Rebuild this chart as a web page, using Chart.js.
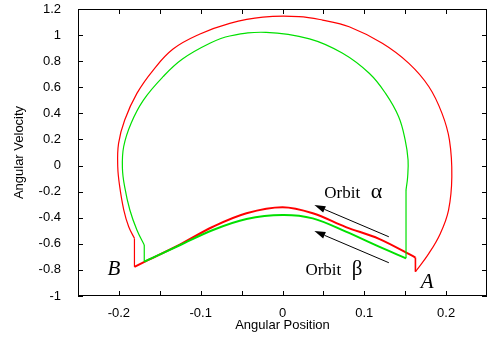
<!DOCTYPE html>
<html>
<head>
<meta charset="utf-8">
<script src="https://cdn.jsdelivr.net/npm/chart.js@4.4.0/dist/chart.umd.min.js"></script>
<style>
  html, body { margin: 0; padding: 0; background: #fff; }
  #wrap { width: 490px; height: 338px; }
</style>
</head>
<body>
<div id="wrap"><canvas id="myChart"></canvas></div>
<script>
// orbit alpha (red), [angular position, angular velocity]
var redArc = [[-0.181,-0.558],[-0.188,-0.469],[-0.194,-0.341],[-0.199,-0.162],[-0.2014,-0.01],
    [-0.2004,0.17],[-0.1929,0.349],[-0.178,0.553],[-0.158,0.732],[-0.1338,0.893],[-0.1016,1.006],
    [-0.0645,1.09],[-0.024,1.138],[0.02,1.142],[0.049,1.115],[0.0815,1.064],[0.122,0.937],
    [0.1545,0.783],[0.179,0.604],[0.195,0.40],[0.2041,0.195],[0.207,-0.086],[0.203,-0.341],
    [0.193,-0.52],[0.179,-0.673],[0.1625,-0.814]];
var redLow = [[0.1625,-0.705],[0.118,-0.562],[0.0775,-0.472],[0.037,-0.366],[0,-0.32],
    [-0.044,-0.366],[-0.085,-0.469],[-0.125,-0.604],[-0.17,-0.742],[-0.181,-0.776]];
var redJumpA = [[0.1625,-0.814],[0.1625,-0.705]];
var redJumpB = [[-0.181,-0.776],[-0.181,-0.558]];

// orbit beta (green)
var greenArc = [[-0.169,-0.609],[-0.178,-0.494],[-0.1866,-0.341],[-0.1930,-0.162],[-0.1957,-0.02],
    [-0.1942,0.144],[-0.1852,0.323],[-0.170,0.502],[-0.146,0.681],[-0.1223,0.8164],[-0.0882,0.939],
    [-0.0645,0.993],[-0.02,1.021],[0.033,0.971],[0.073,0.862],[0.106,0.707],[0.126,0.553],
    [0.142,0.374],[0.150,0.195],[0.1535,0.042],[0.153,-0.086],[0.151,-0.188]];
var greenLow = [[0.151,-0.711],[0.118,-0.622],[0.0775,-0.507],[0.037,-0.405],[0,-0.379],
    [-0.044,-0.41],[-0.085,-0.494],[-0.125,-0.609],[-0.169,-0.737]];
var greenJumpA = [[0.151,-0.188],[0.151,-0.711]];
var greenJumpB = [[-0.169,-0.737],[-0.169,-0.609]];

var xTickValues = [-0.2, -0.15, -0.1, -0.05, 0, 0.05, 0.1, 0.15, 0.2];
var xTickLabels = ['-0.2', '', '-0.1', '', '0', '', '0.1', '', '0.2'];
var yTickValues = [-1, -0.8, -0.6, -0.4, -0.2, 0, 0.2, 0.4, 0.6, 0.8, 1, 1.2];
var yTickLabels = ['-1', '-0.8', '-0.6', '-0.4', '-0.2', '0', '0.2', '0.4', '0.6', '0.8', '1', '1.2'];

// arrows (tail -> head) and labels, in data units
var arrows = [[[0.130,-0.546],[0.039,-0.303]], [[0.130,-0.745],[0.039,-0.502]]];
var labels = [
    {text: 'Orbit', x: 0.0511, y: -0.251, font: '17px "Liberation Serif"'},
    {text: '\u03b1', x: 0.108, y: -0.251, font: '22px "Liberation Serif"'},
    {text: 'Orbit', x: 0.028, y: -0.839, font: '17px "Liberation Serif"'},
    {text: '\u03b2', x: 0.0848, y: -0.839, font: '21px "Liberation Serif"'},
    {text: 'A', x: 0.169, y: -0.939, font: 'italic 21px "Liberation Serif"'},
    {text: 'B', x: -0.214, y: -0.839, font: 'italic 21px "Liberation Serif"'}
];

function pts(a) { return a.map(function (p) { return {x: p[0], y: p[1]}; }); }
function line(a, color, w, t) {
    return {data: pts(a), borderColor: color, borderWidth: w, showLine: true,
        pointRadius: 0, tension: t, fill: false};
}

var red = '#ff0000', green = '#00e000';

var frame = {
    id: 'frame',
    afterDatasetsDraw: function (chart) {
        var c = chart.ctx, a = chart.chartArea, xs = chart.scales.x, ys = chart.scales.y;
        c.save();
        c.strokeStyle = '#000';
        c.lineWidth = 1;
        c.beginPath();
        xTickValues.forEach(function (v) {
            var px = Math.round(xs.getPixelForValue(v)) + 0.5;
            c.moveTo(px, a.bottom); c.lineTo(px, a.bottom - 5);
            c.moveTo(px, a.top); c.lineTo(px, a.top + 5);
        });
        yTickValues.forEach(function (v) {
            var py = Math.round(ys.getPixelForValue(v)) + 0.5;
            c.moveTo(a.left, py); c.lineTo(a.left + 5, py);
            c.moveTo(a.right, py); c.lineTo(a.right - 5, py);
        });
        c.stroke();
        c.strokeRect(a.left + 0.5, a.top + 0.5, a.right - a.left - 1, a.bottom - a.top - 1);

        arrows.forEach(function (ar) {
            var x0 = xs.getPixelForValue(ar[0][0]), y0 = ys.getPixelForValue(ar[0][1]);
            var x1 = xs.getPixelForValue(ar[1][0]), y1 = ys.getPixelForValue(ar[1][1]);
            var ang = Math.atan2(y1 - y0, x1 - x0), L = 11, W = 3.5;
            var bx = x1 - L * Math.cos(ang), by = y1 - L * Math.sin(ang);
            c.beginPath();
            c.moveTo(x0, y0); c.lineTo(bx, by);
            c.stroke();
            c.beginPath();
            c.moveTo(x1, y1);
            c.lineTo(bx + W * Math.sin(ang), by - W * Math.cos(ang));
            c.lineTo(bx - W * Math.sin(ang), by + W * Math.cos(ang));
            c.closePath();
            c.fillStyle = '#000';
            c.fill();
        });

        c.fillStyle = '#000';
        c.textAlign = 'left';
        c.textBaseline = 'alphabetic';
        labels.forEach(function (l) {
            c.font = l.font;
            c.fillText(l.text, xs.getPixelForValue(l.x), ys.getPixelForValue(l.y));
        });
        c.restore();
    }
};

var ctx = document.getElementById('myChart');
var myChart = new Chart(ctx, {
    type: 'scatter',
    data: {
        datasets: [
            line(greenLow, green, 2, 0.35),
            line(greenArc, green, 1.2, 0.4),
            line(greenJumpA, green, 1.2, 0),
            line(greenJumpB, green, 1.2, 0),
            line(redLow, red, 2, 0.35),
            line(redArc, red, 1.2, 0.4),
            line(redJumpA, red, 1.6, 0),
            line(redJumpB, red, 1.2, 0)
        ]
    },
    options: {
        responsive: true,
        maintainAspectRatio: false,
        animation: false,
        events: [],
        layout: {padding: {left: 0, right: 3, top: 9, bottom: 0}},
        plugins: {legend: {display: false}, tooltip: {enabled: false}},
        scales: {
            x: {
                type: 'linear',
                min: -0.25,
                max: 0.25,
                afterBuildTicks: function (s) { s.ticks = xTickValues.map(function (v) { return {value: v}; }); },
                afterFit: function (s) { s.height = 42; s.paddingLeft = 0; s.paddingRight = 0; },
                grid: {display: false},
                border: {display: false},
                ticks: {
                    color: '#000',
                    padding: 2,
                    maxRotation: 0,
                    autoSkip: false,
                    font: {family: '"Liberation Sans"', size: 13},
                    callback: function (v, i) { return xTickLabels[i]; }
                },
                title: {
                    display: true,
                    text: 'Angular Position',
                    color: '#000',
                    padding: {top: 0, bottom: 5},
                    font: {family: '"Liberation Sans"', size: 13}
                }
            },
            y: {
                type: 'linear',
                min: -1,
                max: 1.2,
                afterBuildTicks: function (s) { s.ticks = yTickValues.map(function (v) { return {value: v}; }); },
                afterFit: function (s) { s.width = 78; s.paddingTop = 0; s.paddingBottom = 0; },
                grid: {display: false},
                border: {display: false},
                ticks: {
                    color: '#000',
                    padding: 9,
                    autoSkip: false,
                    font: {family: '"Liberation Sans"', size: 13},
                    callback: function (v, i) { return yTickLabels[i]; }
                },
                title: {
                    display: true,
                    text: 'Angular Velocity',
                    color: '#000',
                    padding: {top: 12, bottom: 0},
                    font: {family: '"Liberation Sans"', size: 13}
                }
            }
        }
    },
    plugins: [frame]
});
</script>
</body>
</html>
